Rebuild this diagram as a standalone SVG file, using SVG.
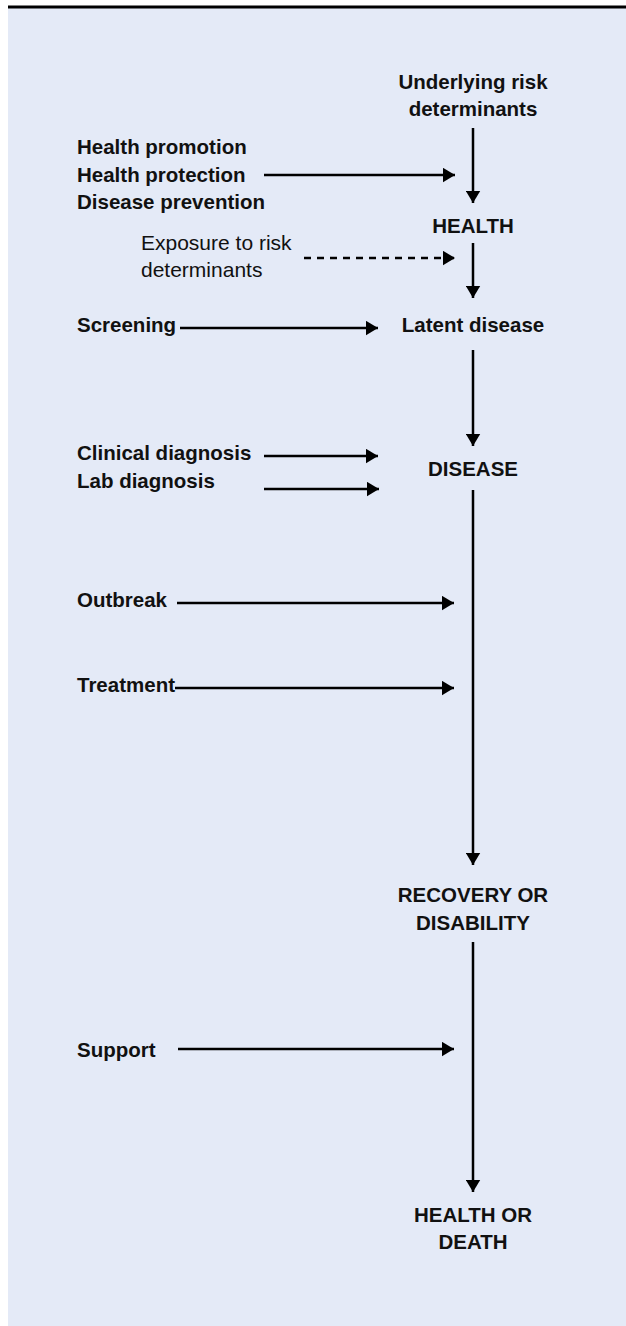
<svg xmlns="http://www.w3.org/2000/svg" width="626" height="1326" viewBox="0 0 626 1326">
<style>
.b{font-family:"Liberation Sans",Arial,sans-serif;font-weight:bold;font-size:20.5px;fill:#111}
.r{font-family:"Liberation Sans",Arial,sans-serif;font-size:21px;fill:#111}
.c{text-anchor:middle}
.ln{stroke:#000;stroke-width:2.5;fill:none;marker-end:url(#ah)}
.d{stroke-dasharray:7 6}
</style>
<defs>
<marker id="ah" markerUnits="userSpaceOnUse" markerWidth="13" markerHeight="15" refX="12.5" refY="7.5" orient="auto">
<path d="M0,0 L12.5,7.5 L0,15 z" fill="#000"/>
</marker>
</defs>
<rect x="8" y="8" width="618" height="1318" fill="#E4EAF7"/>
<rect x="8" y="5.5" width="618" height="3" fill="#000"/>
<g id="connectors">
<line class="ln" x1="473" y1="128" x2="473" y2="203"/>
<line class="ln" x1="473" y1="243" x2="473" y2="298"/>
<line class="ln" x1="473" y1="350" x2="473" y2="446"/>
<line class="ln" x1="473" y1="490" x2="473" y2="865"/>
<line class="ln" x1="473" y1="942" x2="473" y2="1192"/>
<line class="ln" x1="264" y1="175" x2="455" y2="175"/>
<line class="ln d" x1="304" y1="258" x2="455" y2="258"/>
<line class="ln" x1="180" y1="328" x2="378" y2="328"/>
<line class="ln" x1="264" y1="456" x2="378" y2="456"/>
<line class="ln" x1="264" y1="489" x2="379" y2="489"/>
<line class="ln" x1="177" y1="603" x2="454" y2="603"/>
<line class="ln" x1="175" y1="688" x2="454" y2="688"/>
<line class="ln" x1="178" y1="1049" x2="454" y2="1049"/>
</g>
<g id="underlying"><text class="b c" x="473" y="89">Underlying risk</text><text class="b c" x="473" y="116">determinants</text></g>
<g id="health"><text class="b c" x="473" y="233">HEALTH</text></g>
<g id="latent"><text class="b c" x="473" y="331.5">Latent disease</text></g>
<g id="disease"><text class="b c" x="473" y="476">DISEASE</text></g>
<g id="recovery"><text class="b c" x="473" y="902">RECOVERY OR</text><text class="b c" x="473" y="930">DISABILITY</text></g>
<g id="healthordeath"><text class="b c" x="473" y="1221.5">HEALTH OR</text><text class="b c" x="473" y="1249">DEATH</text></g>
<g id="prevention"><text class="b" x="77" y="154">Health promotion</text><text class="b" x="77" y="181.5">Health protection</text><text class="b" x="77" y="209">Disease prevention</text></g>
<g id="exposure"><text class="r" x="141" y="250">Exposure to risk</text><text class="r" x="141" y="276.5">determinants</text></g>
<g id="screening"><text class="b" x="77" y="332">Screening</text></g>
<g id="diagnosis"><text class="b" x="77" y="460">Clinical diagnosis</text><text class="b" x="77" y="487.5">Lab diagnosis</text></g>
<g id="outbreak"><text class="b" x="77" y="606.5">Outbreak</text></g>
<g id="treatment"><text class="b" x="77" y="692">Treatment</text></g>
<g id="support"><text class="b" x="77" y="1057">Support</text></g>
</svg>
